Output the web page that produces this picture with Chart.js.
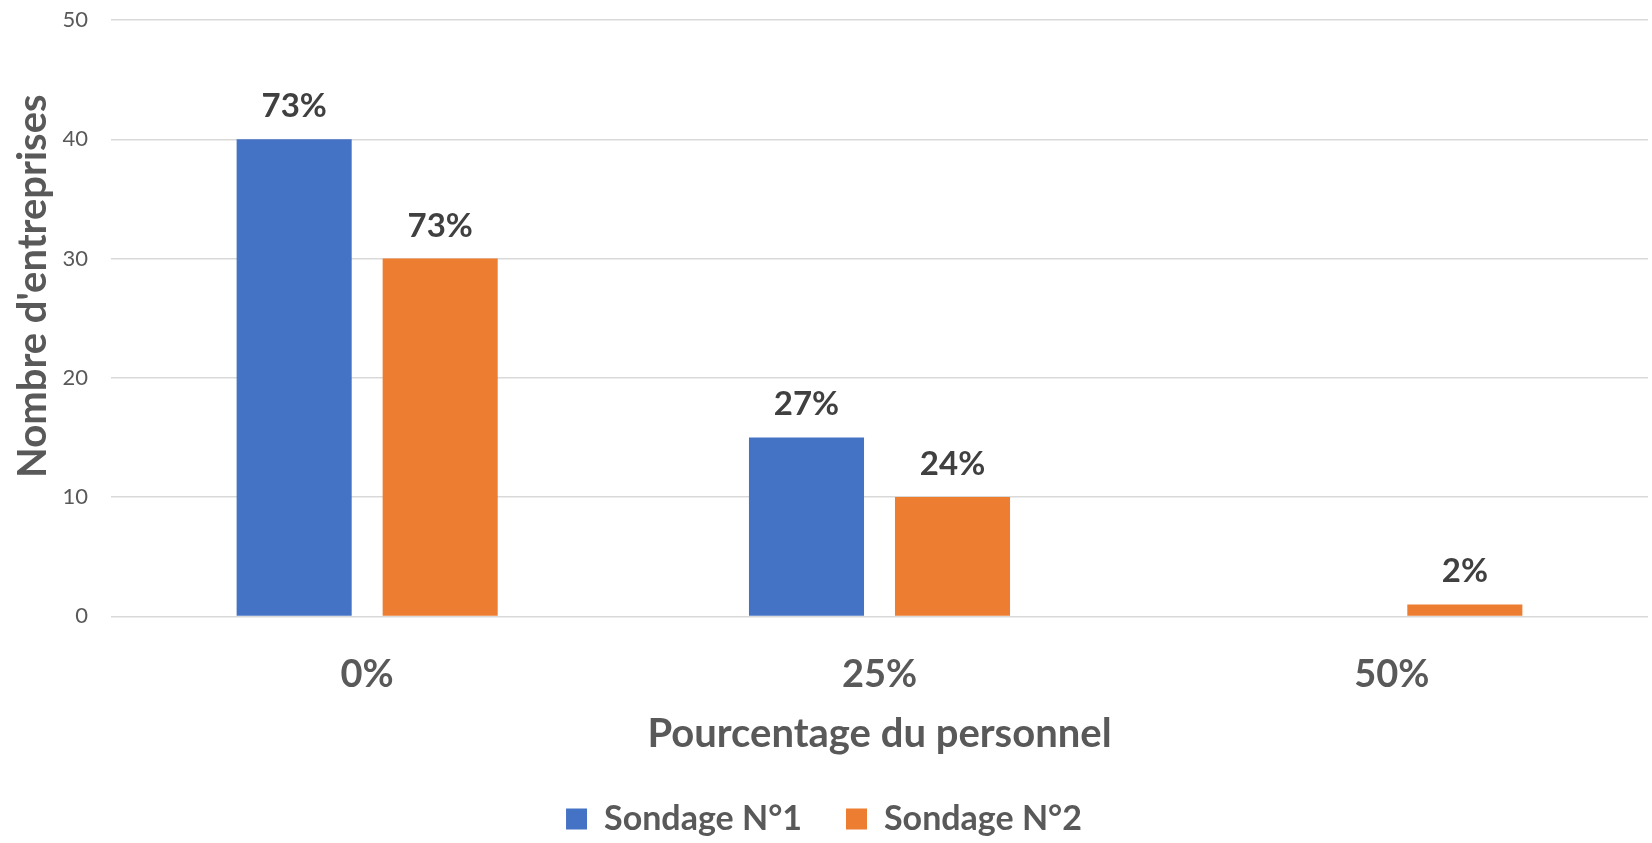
<!DOCTYPE html>
<html>
<head>
<meta charset="utf-8">
<script src="https://cdn.jsdelivr.net/npm/chart.js@4.4.0/dist/chart.umd.min.js"></script>
<style>
  html, body { margin: 0; padding: 0; background: #fff; }
  #wrap { width: 1652px; height: 843px; }
</style>
</head>
<body>
<div id="wrap"><canvas id="graphique" width="1652" height="843"></canvas></div>
<script>
// Données du graphique
const categories = ["0%", "25%", "50%"];
const sondage1 = [40, 15, 0];
const sondage2 = [30, 10, 1];
const etiquettes1 = ["73%", "27%", ""];
const etiquettes2 = ["73%", "24%", "2%"];
const graduationsY = [0, 10, 20, 30, 40, 50];
const titreY = "Nombre d'entreprises";

const police = "Lato, 'Open Sans', sans-serif";
const gris = "#595959";

// Plugin pour écrire les pourcentages au-dessus des barres (et le titre vertical)
const etiquettesPlugin = {
    id: "etiquettes",
    afterDatasetsDraw(chart) {
        const ctx = chart.ctx;
        const textes = [etiquettes1, etiquettes2];
        ctx.save();
        ctx.font = "bold 33px " + police;
        ctx.fillStyle = "#404040";
        ctx.textAlign = "center";
        ctx.textBaseline = "alphabetic";
        chart.data.datasets.forEach((ds, i) => {
            chart.getDatasetMeta(i).data.forEach((barre, j) => {
                const t = textes[i][j];
                if (t) ctx.fillText(t, barre.x, barre.y - 22);
            });
        });
        // titre de l'axe Y, un peu au-dessus du centre comme dans Excel
        const y = chart.scales.y;
        ctx.translate(33, y.getPixelForValue(25) - 32);
        ctx.rotate(-Math.PI / 2);
        ctx.font = "bold 40px " + police;
        ctx.fillStyle = gris;
        ctx.textBaseline = "middle";
        ctx.fillText(titreY, 0, 0);
        ctx.restore();
    }
};

const ctx = document.getElementById("graphique").getContext("2d");
new Chart(ctx, {
    type: "bar",
    data: {
        labels: categories,
        datasets: [
            { label: "Sondage N°1", data: sondage1, backgroundColor: "#4472C4" },
            { label: "Sondage N°2", data: sondage2, backgroundColor: "#ED7D31" }
        ]
    },
    options: {
        responsive: false,
        animation: false,
        categoryPercentage: 0.57,
        barPercentage: 0.788,
        layout: { padding: { top: 20, right: 4, left: 0, bottom: -3 } },
        plugins: {
            tooltip: { enabled: false },
            legend: {
                position: "bottom",
                labels: {
                    color: gris,
                    font: { family: police, size: 34, weight: "bold" },
                    boxWidth: 21,
                    boxHeight: 21,
                    padding: 44
                }
            }
        },
        scales: {
            x: {
                grid: { display: false, drawTicks: false },
                border: { display: false },
                ticks: {
                    color: gris,
                    padding: 36,
                    font: { family: police, size: 38, weight: "bold" }
                },
                title: {
                    display: true,
                    text: "Pourcentage du personnel",
                    color: gris,
                    font: { family: police, size: 40, weight: "bold" },
                    padding: { top: -24, bottom: 0 }
                }
            },
            y: {
                min: 0,
                max: 50,
                afterBuildTicks(scale) {
                    scale.ticks = graduationsY.map(v => ({ value: v }));
                },
                afterFit(scale) {
                    scale.width = 111;
                    scale.paddingTop = 0;
                    scale.paddingBottom = 0;
                },
                grid: { color: "#d9d9d9", lineWidth: 1.5, drawTicks: false },
                border: { display: false },
                ticks: {
                    color: gris,
                    padding: 23,
                    font: { family: police, size: 22 }
                }
            }
        }
    },
    plugins: [etiquettesPlugin]
});
</script>
</body>
</html>
